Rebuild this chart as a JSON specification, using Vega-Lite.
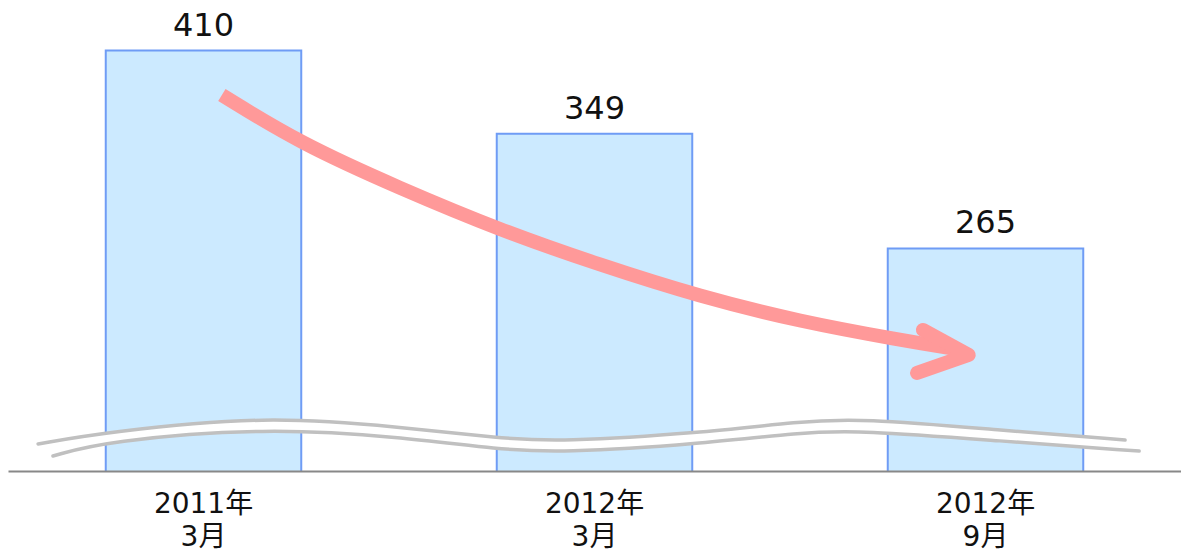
{
  "$schema": "https://vega.github.io/schema/vega-lite/v6.json",
  "width": 1173,
  "height": 471,
  "autosize": {"type": "none"},
  "padding": {"left": 8, "top": 0, "right": 0, "bottom": 85},
  "background": "white",
  "config": {"view": {"stroke": null}, "font": "DejaVu Sans, Noto Sans CJK JP"},
  "datasets": {
    "bars": [
      {"period": "2011年|3月", "value": 410},
      {"period": "2012年|3月", "value": 349},
      {"period": "2012年|9月", "value": 265}
    ],
    "upper": [
      {"t": -0.423, "v": 121.8}, {"t": -0.249, "v": 130.6}, {"t": 0.162, "v": 142.6},
      {"t": 0.503, "v": 134.2}, {"t": 0.758, "v": 125.9}, {"t": 0.912, "v": 123.5},
      {"t": 1.270, "v": 129.8}, {"t": 1.526, "v": 138.4}, {"t": 1.679, "v": 140.6},
      {"t": 2.037, "v": 132.0}, {"t": 2.357, "v": 124.7}
    ],
    "lower": [
      {"t": -0.385, "v": 113.0}, {"t": -0.249, "v": 124.0}, {"t": 0.162, "v": 133.8},
      {"t": 0.503, "v": 126.9}, {"t": 0.758, "v": 117.8}, {"t": 0.912, "v": 115.4},
      {"t": 1.270, "v": 121.8}, {"t": 1.526, "v": 130.3}, {"t": 1.679, "v": 131.8},
      {"t": 2.037, "v": 124.0}, {"t": 2.393, "v": 116.6}
    ],
    "middle": [
      {"t": -0.405, "v": 117.4}, {"t": -0.249, "v": 127.3}, {"t": 0.162, "v": 138.2},
      {"t": 0.503, "v": 130.6}, {"t": 0.758, "v": 121.9}, {"t": 0.912, "v": 119.4},
      {"t": 1.270, "v": 125.8}, {"t": 1.526, "v": 134.4}, {"t": 1.679, "v": 136.2},
      {"t": 2.037, "v": 128.0}, {"t": 2.370, "v": 121.0}
    ],
    "arrow": [
      {"t": 0.047, "v": 377.4}, {"t": 0.247, "v": 342.0}, {"t": 0.503, "v": 309.0},
      {"t": 0.758, "v": 278.5}, {"t": 1.014, "v": 252.9}, {"t": 1.270, "v": 229.7},
      {"t": 1.526, "v": 211.4}, {"t": 1.781, "v": 198.0}, {"t": 1.922, "v": 191.4}
    ],
    "head": [
      {"o": 1, "t": 1.840, "v": 205.3},
      {"o": 2, "t": 1.957, "v": 187.0},
      {"o": 3, "t": 1.825, "v": 173.8}
    ]
  },
  "resolve": {"scale": {"x": "independent"}, "axis": {"x": "independent"}},
  "layer": [
    {
      "data": {"name": "bars"},
      "mark": {"type": "bar", "fill": "#cceaff", "stroke": "#6f9cf5", "strokeWidth": 2, "clip": true},
      "encoding": {
        "x": {
          "field": "period", "type": "nominal", "sort": null,
          "scale": {"paddingInner": 0.5, "paddingOuter": 0.25},
          "axis": {
            "title": null, "ticks": false, "labelAngle": 0,
            "domainColor": "#888888", "domainWidth": 2, "zindex": 1,
            "labelExpr": "split(datum.label, '|')",
            "labelFontSize": 28, "labelLineHeight": 33, "labelColor": "#111111",
            "labelPadding": 19, "labelFont": "DejaVu Sans, Noto Sans CJK JP"
          }
        },
        "y": {
          "field": "value", "type": "quantitative",
          "scale": {"domain": [102, 447], "zero": false, "nice": false},
          "axis": null
        }
      }
    },
    {
      "data": {"name": "bars"},
      "mark": {"type": "text", "baseline": "alphabetic", "dy": -15, "fontSize": 32, "color": "#111111", "font": "DejaVu Sans"},
      "encoding": {
        "x": {"field": "period", "type": "nominal", "sort": null, "scale": {"paddingInner": 0.5, "paddingOuter": 0.25}, "axis": null},
        "y": {"field": "value", "type": "quantitative", "scale": {"domain": [102, 447], "zero": false, "nice": false}},
        "text": {"field": "value", "type": "quantitative"}
      }
    },
    {
      "data": {"name": "middle"},
      "mark": {"type": "line", "stroke": "white", "strokeWidth": 10, "interpolate": "basis"},
      "encoding": {
        "x": {"field": "t", "type": "quantitative", "scale": {"domain": [-0.5, 2.5], "nice": false, "zero": false}, "axis": null},
        "y": {"field": "v", "type": "quantitative", "scale": {"domain": [102, 447], "zero": false, "nice": false}}
      }
    },
    {
      "data": {"name": "upper"},
      "mark": {"type": "line", "stroke": "#c0c0c0", "strokeWidth": 3.5, "interpolate": "basis", "strokeCap": "round"},
      "encoding": {
        "x": {"field": "t", "type": "quantitative", "scale": {"domain": [-0.5, 2.5], "nice": false, "zero": false}, "axis": null},
        "y": {"field": "v", "type": "quantitative", "scale": {"domain": [102, 447], "zero": false, "nice": false}}
      }
    },
    {
      "data": {"name": "lower"},
      "mark": {"type": "line", "stroke": "#c0c0c0", "strokeWidth": 3.5, "interpolate": "basis", "strokeCap": "round"},
      "encoding": {
        "x": {"field": "t", "type": "quantitative", "scale": {"domain": [-0.5, 2.5], "nice": false, "zero": false}, "axis": null},
        "y": {"field": "v", "type": "quantitative", "scale": {"domain": [102, 447], "zero": false, "nice": false}}
      }
    },
    {
      "data": {"name": "arrow"},
      "mark": {"type": "line", "stroke": "#ff9999", "strokeWidth": 14, "interpolate": "basis"},
      "encoding": {
        "x": {"field": "t", "type": "quantitative", "scale": {"domain": [-0.5, 2.5], "nice": false, "zero": false}, "axis": null},
        "y": {"field": "v", "type": "quantitative", "scale": {"domain": [102, 447], "zero": false, "nice": false}}
      }
    },
    {
      "data": {"name": "head"},
      "mark": {"type": "line", "stroke": "#ff9999", "strokeWidth": 14, "strokeCap": "round", "strokeJoin": "round"},
      "encoding": {
        "x": {"field": "t", "type": "quantitative", "scale": {"domain": [-0.5, 2.5], "nice": false, "zero": false}, "axis": null},
        "y": {"field": "v", "type": "quantitative", "scale": {"domain": [102, 447], "zero": false, "nice": false}},
        "order": {"field": "o", "type": "quantitative"}
      }
    }
  ]
}
